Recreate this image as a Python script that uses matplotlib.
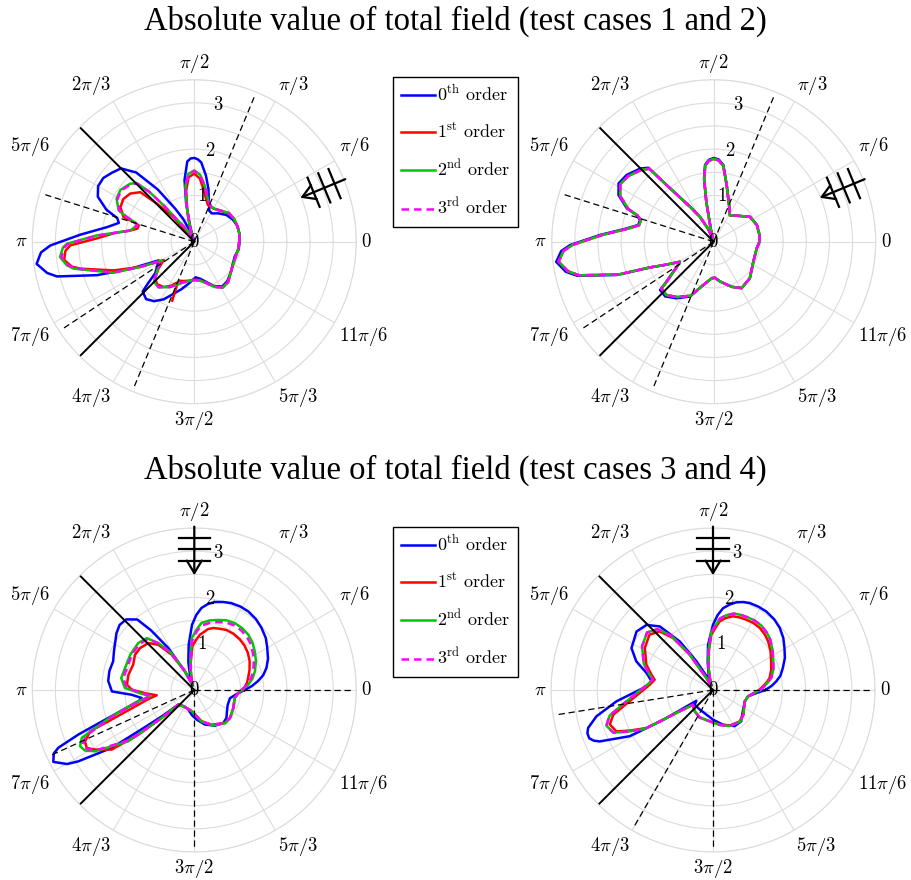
import numpy as np
import matplotlib
matplotlib.use("Agg")
import matplotlib.pyplot as plt

plt.rcParams['mathtext.fontset'] = 'cm'
plt.rcParams['font.family'] = ['Liberation Serif', 'DejaVu Serif']

# ---- data: (angle in degrees, |E|) ----
tl_blue = [(0,0.98),(10,0.99),(20,0.99),(30,0.96),(40,0.90),(50,0.80),(58,0.72),(64,0.74),(70,0.92),(75,1.18),
           (80,1.45),(85,1.72),(87.5,1.78),(90,1.81),(92.5,1.80),(95,1.74),(99,1.35),(102,0.85),(105,0.35),(108,0.05),
           (112,0.25),(116,0.55),(120,0.82),(125,1.38),(130,1.95),(135,2.24),(140,2.32),(145,2.40),(150,2.40),
           (155,2.30),(160,2.02),(163,1.74),(166,1.68),(170.5,1.91),(176.5,2.47),(181.5,3.11),(184,3.32),(188,3.44),
           (192,3.25),(194.2,3.06),(199,2.22),(203,1.50),(207.6,0.87),(214,0.97),(219,1.09),(222,1.35),(224,1.55),
           (230,1.62),(236,1.55),(242,1.41),(248,1.22),(255,1.06),(262,0.92),(272,0.77),(279,0.81),(286,0.90),
           (294,1.05),(302,1.14),(310,1.11),(320,1.03),(330,0.96),(340,0.93),(350,0.97),(360,0.98)]
tl_red = [(249.6,0.90),(255,0.88),(262,0.85),(270,0.82),(278,0.84),(286,0.92),(294,1.06),(302,1.16),(310,1.13),
          (320,1.03),(330,0.97),(340,0.95),(350,0.96),(360,0.97),(10,0.99),(20,0.99),(30,0.99),(40,0.96),(50,0.87),
          (58,0.83),(64,0.83),(70,0.85),(75,0.97),(80,1.15),(85,1.37),(90,1.47),(95,1.40),(99,1.12),(102,0.75),
          (105,0.45),(108,0.22),(112,0.10),(116,0.12),(120,0.18),(125,0.25),(128.5,0.31),(130,0.69),(134.5,1.15),
          (137.4,1.58),(143,1.73),(149,1.79),(155,1.76),(160.8,1.62),(162,1.38),(163.6,1.25),(167,1.26),(170,1.40),
          (174,1.75),(178,2.10),(181.7,2.68),(184,2.79),(188,2.84),(191.5,2.70),(193.3,2.53),(199.6,1.85),
          (205,1.29),(211,0.77),(217,0.97),(223,1.16),(229,1.22),(236,1.18),(242,1.08),(246,0.98),(248,0.95),
          (249,1.20),(249.5,1.36)]
tl_green = [(0,0.97),(10,0.99),(20,0.99),(30,0.99),(40,0.97),(50,0.88),(58,0.84),(64,0.84),(70,0.91),(75,1.05),
            (80,1.25),(85,1.45),(90,1.54),(95,1.47),(99,1.22),(102,0.80),(105,0.45),(108,0.22),(112,0.08),(116,0.12),
            (120,0.22),(125,0.40),(128,0.60),(130,1.00),(132,1.45),(134.5,1.78),(138,1.87),(145,1.95),(151,1.92),
            (157.5,1.77),(160,1.55),(162,1.35),(164,1.29),(170,1.40),(176.3,2.11),(180.9,2.75),(182.5,2.84),
            (186.5,2.92),(190.5,2.80),(192.6,2.67),(201,1.87),(205,1.29),(210,0.81),(214,0.92),(219,1.04),
            (225,1.23),(232,1.25),(242,1.11),(248,1.00),(255,0.91),(262,0.86),(270,0.83),(278,0.85),(286,0.93),
            (294,1.07),(302,1.17),(310,1.14),(320,1.03),(330,0.97),(340,0.95),(350,0.96),(360,0.97)]
tl_magenta = [(0,0.97),(10,0.99),(20,0.99),(30,0.99),(40,0.97),(50,0.88),(58,0.84),(64,0.84),(70,0.91),(75,1.05),
              (80,1.25),(85,1.44),(90,1.53),(95,1.46),(99,1.21),(102,0.80),(105,0.45),(108,0.22),(112,0.08),
              (116,0.12),(120,0.22),(125,0.40),(128,0.60),(130,1.00),(132,1.44),(134.5,1.76),(138,1.85),(145,1.93),
              (151,1.90),(157.5,1.75),(160,1.54),(162,1.34),(164,1.28),(170,1.39),(176.3,2.09),(180.9,2.72),
              (182.5,2.81),(186.5,2.89),(190.5,2.77),(192.6,2.64),(201,1.86),(205,1.29),(210,0.81),(214,0.92),
              (219,1.04),(225,1.23),(232,1.25),(242,1.11),(248,1.00),(255,0.91),(262,0.86),(270,0.83),(278,0.85),
              (286,0.93),(294,1.07),(302,1.17),(310,1.14),(320,1.03),(330,0.97),(340,0.95),(350,0.96),(360,0.97)]

tr_blue = [(0,0.99),(8.3,1.00),(21,1.00),(34.5,0.95),(48.5,0.75),(58.5,0.67),(67.3,0.86),(77,1.25),(82.8,1.67),
           (86.5,1.78),(90,1.81),(93.5,1.77),(96.4,1.67),(98.7,1.38),(100.5,0.88),(102.7,0.30),(107,0.05),(113,0.30),
           (119,0.62),(124,0.91),(129.7,1.59),(131.4,2.13),(135.1,2.24),(142.5,2.37),(148.5,2.41),(153.9,2.29),
           (159,2.01),(161,1.76),(163.6,1.66),(167.5,1.67),(171.3,1.90),(176.6,2.46),(181.3,3.10),(183.5,3.30),
           (187.3,3.43),(191.5,3.26),(194,3.04),(199,2.21),(202,1.49),(205.6,1.16),(210.7,0.85),(214,0.96),
           (220.6,1.38),(222,1.56),(228.5,1.58),(236.8,1.46),(246.7,1.29),(256.6,0.96),(267,0.79),(272,0.78),
           (279,0.87),(291.8,1.05),(301,1.17),(314.7,1.11),(333,0.96),(351,0.94),(360,0.99)]
# 1st, 2nd and 3rd order coincide in test case 2
tr_higher = [(0,0.99),(8.3,1.00),(21,1.00),(34.5,0.95),(48.5,0.75),(58.5,0.67),(67.3,0.86),(77,1.25),(82.8,1.65),
             (86.5,1.76),(90,1.79),(93.5,1.75),(96.4,1.65),(98.7,1.36),(100.5,0.87),(102.7,0.30),(107,0.05),
             (113,0.30),(119,0.61),(124,0.90),(129.7,1.57),(131.4,2.10),(135.1,2.20),(142.5,2.33),(148.5,2.37),
             (153.9,2.25),(159,1.98),(161,1.74),(163.6,1.64),(167.5,1.65),(171.3,1.87),(176.6,2.42),(181.3,3.05),
             (183.5,3.25),(187.3,3.38),(191.5,3.21),(194,3.00),(199,2.18),(202,1.48),(205.6,1.15),(210.7,0.85),
             (214,0.95),(220.6,1.35),(222,1.52),(228.5,1.54),(236.8,1.43),(246.7,1.27),(256.6,0.96),(267,0.79),
             (272,0.78),(279,0.87),(291.8,1.05),(301,1.17),(314.7,1.11),(333,0.96),(351,0.94),(360,0.99)]

bl_blue = [(0,1.09),(4,1.25),(8,1.39),(12,1.52),(17,1.63),(23,1.73),(30,1.82),(36,1.91),(43,1.98),(49,2.03),
           (55.5,2.06),(61,2.06),(67,2.04),(72,2.00),(77,1.95),(81,1.88),(85,1.78),(88.5,1.62),(92,1.41),
           (97,0.99),(102,0.62),(106,0.34),(110,0.10),(113,0.20),(116.6,0.45),(121.8,1.07),(126,1.60),(129,1.96),
           (134,2.12),(139,2.14),(144,2.08),(154,1.93),(160.5,1.86),(167.5,1.88),(174,1.87),(181,1.78),(184.3,1.36),
           (188.6,1.15),(191.4,1.23),(197.5,1.87),(201,2.68),(203,3.19),(204.3,3.33),(207,3.42),(210.2,3.18),
           (211.6,2.94),(215,2.18),(217,1.33),(219,0.91),(222.5,0.47),(235,0.42),(253,0.44),(265,0.55),(274.5,0.64),
           (287,0.78),(300,0.89),(311,0.95),(319,0.92),(330,0.82),(336,0.79),(347,0.79),(354.6,0.92),(360,1.09)]
bl_red = [(0,1.05),(4,1.10),(8,1.15),(12.5,1.19),(20,1.27),(27.7,1.35),(35,1.41),(41.8,1.45),(48,1.47),(55.3,1.48),
          (62,1.47),(68,1.43),(73,1.40),(77.3,1.35),(84.2,1.20),(88,1.08),(92.5,0.95),(97,0.62),(100,0.45),
          (105,0.20),(110,0.12),(116.6,0.45),(122.7,0.91),(128.5,1.25),(134.4,1.42),(142.3,1.48),(149.2,1.49),
          (157.4,1.43),(167,1.46),(175.5,1.46),(179.7,1.35),(184,1.05),(188,0.82),(191,1.00),(194.7,1.25),
          (199.7,1.90),(201.6,2.42),(205.2,2.61),(208.3,2.64),(211,2.50),(215.8,2.20),(218.6,1.55),(220.6,0.93),
          (222.5,0.47),(240,0.42),(262.9,0.46),(283,0.69),(296.6,0.84),(312.9,0.97),(321.9,0.98),(335,0.93),
          (349,0.89),(356,0.95),(360,1.05)]
bl_green = [(0,1.03),(5.6,1.17),(11,1.28),(17.1,1.37),(25,1.47),(32.5,1.55),(39,1.62),(45.7,1.67),(52,1.69),
            (58.7,1.69),(65,1.66),(71.2,1.60),(77.5,1.54),(83.8,1.46),(88,1.30),(92.9,1.12),(97.3,0.62),(101,0.40),
            (105,0.22),(110,0.12),(116.6,0.45),(122,0.95),(127.5,1.28),(132.5,1.52),(140,1.58),(151.2,1.58),
            (162.4,1.57),(170.7,1.60),(178.3,1.50),(183,1.20),(188,0.97),(192,1.30),(197.7,1.87),(203,2.64),
            (206.2,2.75),(209,2.70),(211.7,2.52),(217.9,1.80),(220.6,0.93),(222.5,0.47),(240,0.42),(262.9,0.46),
            (283,0.70),(297,0.86),(313,0.98),(322,0.98),(335,0.93),(349,0.89),(358.3,0.99),(360,1.03)]
bl_magenta = [(0,1.02),(5.6,1.14),(11,1.24),(17.1,1.33),(25,1.42),(32.5,1.50),(39,1.57),(45.7,1.62),(52,1.64),
              (58.7,1.64),(65,1.61),(71.2,1.55),(77.5,1.48),(83.8,1.40),(88,1.25),(92.9,1.05),(97.3,0.62),(101,0.40),
              (105,0.22),(110,0.12),(116.6,0.45),(122,0.93),(127.5,1.27),(132.5,1.49),(140,1.55),(151.2,1.55),
              (162.4,1.53),(170.7,1.56),(178.3,1.45),(183,1.15),(188,0.93),(192,1.25),(197.7,1.84),(203,2.55),
              (206.2,2.69),(209,2.64),(211.7,2.46),(217.9,1.75),(220.6,0.93),(222.5,0.47),(240,0.42),(262.9,0.46),
              (283,0.70),(297,0.85),(313,0.97),(322,0.98),(335,0.93),(349,0.89),(358.3,0.98),(360,1.02)]

br_blue = [(0,1.13),(4,1.27),(7.8,1.38),(12,1.49),(17.4,1.58),(24,1.70),(30.4,1.79),(36.5,1.89),(42.9,1.97),
           (49,2.02),(55.9,2.05),(61.5,2.05),(67.1,2.04),(71,2.01),(75.1,1.96),(79,1.88),(83,1.78),(86.5,1.62),
           (90,1.41),(96.3,0.98),(101,0.60),(105.8,0.34),(110,0.10),(114,0.30),(120,0.72),(124.4,1.27),(129.9,1.79),
           (135.6,2.01),(142.6,2.08),(152.8,1.98),(159.5,1.77),(165.7,1.48),(172,1.34),(176.9,1.44),(186.7,2.10),
           (192.7,2.58),(196.9,2.82),(199,2.87),(201.3,2.87),(203,2.80),(204.4,2.69),(209,2.06),(211,1.27),
           (212,0.67),(213,0.43),(218.7,0.51),(235.9,0.51),(255,0.55),(270,0.64),(286,0.78),(301,0.91),(312,0.91),
           (324.6,0.79),(340.3,0.73),(349.7,0.77),(356,0.94),(360,1.13)]
br_red = [(0,1.00),(4.2,1.08),(8,1.17),(12,1.25),(19,1.33),(26.2,1.40),(34,1.50),(41.5,1.59),(47,1.64),(53,1.68),
          (59,1.69),(64.6,1.68),(70,1.67),(74.8,1.65),(80,1.58),(84.5,1.49),(91.7,1.20),(96,0.85),(101,0.50),
          (106,0.22),(112,0.10),(119,0.30),(123.4,0.91),(127.6,1.42),(132.3,1.71),(138.9,1.82),(148.4,1.73),
          (159.2,1.54),(166,1.37),(170,1.28),(175.2,1.37),(187.7,1.82),(193.9,2.22),(198.5,2.35),(203.2,2.27),
          (206,2.00),(209.7,1.66),(212.6,0.85),(216.3,0.54),(229.3,0.61),(244,0.66),(264,0.68),(281,0.76),
          (295,0.85),(310.4,0.89),(320.6,0.84),(340.3,0.73),(349.7,0.77),(358,0.94),(360,1.00)]
br_green = [(0,1.02),(4.2,1.11),(8,1.20),(12,1.29),(19,1.38),(26.2,1.45),(34,1.55),(41.5,1.65),(47,1.70),(53,1.74),
            (59,1.75),(64.6,1.74),(70,1.73),(74.8,1.71),(80,1.64),(84.5,1.55),(91.7,1.25),(96,0.88),(101,0.52),
            (106,0.22),(112,0.10),(119,0.31),(123.4,0.94),(127.6,1.48),(132.3,1.78),(138.9,1.89),(148.4,1.80),
            (159.2,1.60),(166,1.42),(170,1.32),(175.2,1.42),(187.7,1.90),(193.9,2.30),(198.5,2.43),(203.2,2.34),
            (206,2.05),(209.7,1.70),(212.6,0.86),(216.3,0.54),(229.3,0.60),(244,0.66),(264,0.68),(281,0.77),
            (295,0.86),(310.4,0.90),(320.6,0.85),(340.3,0.73),(349.7,0.77),(358,0.95),(360,1.02)]
br_magenta = br_green

# wedge faces (solid), boundaries (dashed), incidence direction (deg)
faces = [135, 225]
tl_dashed = [67.5, 247.5, 162.5, 213.5]
bl_dashed = [0, 270, 204.5]
br_dashed = [0, 270, 189, 240]
phi_top, phi_bottom = 22.5, 90

theta_ticks = np.arange(0, 360, 30)
theta_labels = [r'$0$', r'$\pi/6$', r'$\pi/3$', r'$\pi/2$', r'$2\pi/3$', r'$5\pi/6$', r'$\pi$',
                r'$7\pi/6$', r'$4\pi/3$', r'$3\pi/2$', r'$5\pi/3$', r'$11\pi/6$']
r_ticks = [0, 1, 2, 3]
order_labels = [r'$0^{\mathrm{th}}\ \mathrm{order}$', r'$1^{\mathrm{st}}\ \mathrm{order}$',
                r'$2^{\mathrm{nd}}\ \mathrm{order}$', r'$3^{\mathrm{rd}}\ \mathrm{order}$']
titles = ['Absolute value of total field (test cases 1 and 2)',
          'Absolute value of total field (test cases 3 and 4)']

W, H = 911, 880
fig = plt.figure(figsize=(W/100, H/100), dpi=100)


def make_ax(cx, cy):
    R = 162
    ax = fig.add_axes([(cx-R)/W, 1-(cy+R)/H, 2*R/W, 2*R/H], projection='polar')
    ax.set_ylim(0, 3.5)
    ax.set_yticks(np.arange(0, 3.51, 0.5))
    ax.set_yticklabels([])
    ax.set_thetagrids(theta_ticks, labels=[''] * len(theta_ticks))
    ax.grid(color='#dcdcdc', lw=0.8)
    ax.spines['polar'].set_color('#dcdcdc')
    ax.spines['polar'].set_linewidth(0.8)
    # angle labels anchored on the side facing the circle
    for t, lab in zip(theta_ticks, theta_labels):
        c, s = np.cos(np.deg2rad(t)), np.sin(np.deg2rad(t))
        ha = 'center' if abs(c) < 0.1 else ('left' if c > 0 else 'right')
        va = 'center' if abs(s) < 0.1 else ('bottom' if s > 0 else 'top')
        ax.annotate(lab, xy=(np.deg2rad(t), 3.5), xytext=(3.5*c, 3.5*s), textcoords='offset points',
                    ha=ha, va=va, fontsize=13.5, annotation_clip=False)
    for r in r_ticks:
        ax.text(np.deg2rad(80), r, r'$%d$' % r, ha='center', va='center', fontsize=13.5, zorder=10)
    return ax


def curve(ax, pts, **kw):
    th = np.deg2rad([p[0] for p in pts])
    r = [p[1] for p in pts]
    return ax.plot(th, r, **kw)[0]


def pol(p):
    return np.arctan2(p[1], p[0]), np.hypot(p[0], p[1])


def wave_arrow(ax, phi):
    a = np.deg2rad(phi)
    u = np.array([np.cos(a), np.sin(a)])
    n = np.array([-np.sin(a), np.cos(a)])
    ax.annotate('', xy=pol(2.48*u), xytext=pol(3.53*u), annotation_clip=False,
                arrowprops=dict(arrowstyle='->,head_length=0.5,head_width=0.3', lw=1.6, color='k',
                                mutation_scale=18, shrinkA=0, shrinkB=0))
    for rb in [3.28, 3.04, 2.79]:
        t1, r1 = pol(rb*u + 0.34*n)
        t2, r2 = pol(rb*u - 0.34*n)
        ax.plot([t1, t2], [r1, r2], color='k', lw=1.6, clip_on=False)


def panel(ax, blue, red, green, magenta, dashed, phi):
    hs = [curve(ax, blue, color='#0000ff', lw=1.8),
          curve(ax, red, color='#ff0000', lw=1.8),
          curve(ax, green, color='#00c800', lw=1.8),
          curve(ax, magenta, color='#ff00ff', lw=1.8, ls=(0, (3, 2)))]
    for f in faces:
        ax.plot([np.deg2rad(f)]*2, [0, 3.5], color='k', lw=1.4)
    for d in dashed:
        ax.plot([np.deg2rad(d)]*2, [0, 3.45], color='k', lw=0.9, ls=(0, (5, 3)))
    wave_arrow(ax, phi)
    return hs


ax1 = make_ax(194.3, 241.7)
hs = panel(ax1, tl_blue, tl_red, tl_green, tl_magenta, tl_dashed, phi_top)
ax2 = make_ax(713.7, 241.7)
panel(ax2, tr_blue, tr_higher, tr_higher, tr_higher, tl_dashed, phi_top)
ax3 = make_ax(194.3, 690)
panel(ax3, bl_blue, bl_red, bl_green, bl_magenta, bl_dashed, phi_bottom)
ax4 = make_ax(713, 690)
panel(ax4, br_blue, br_red, br_green, br_magenta, br_dashed, phi_bottom)

for top in [77, 527]:
    fig.legend(hs, order_labels, loc='upper left', bbox_to_anchor=(393/W, 1-top/H), fontsize=13,
               frameon=True, fancybox=False, edgecolor='k', framealpha=1, borderaxespad=0,
               handlelength=1.9, handletextpad=0.1, labelspacing=0.95, borderpad=0.45)

fig.text(0.5, 1-21/H, titles[0], ha='center', va='center', fontsize=23.5)
fig.text(0.5, 1-470/H, titles[1], ha='center', va='center', fontsize=23.5)

fig.savefig('out.png', dpi=100)
